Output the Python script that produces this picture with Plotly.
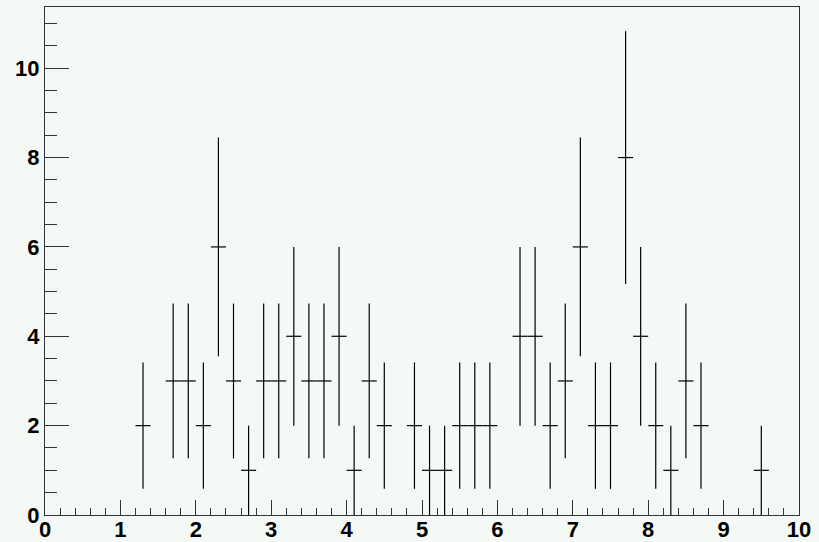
import numpy as np
import plotly.graph_objects as go

bin_centers = [1.3, 1.7, 1.9, 2.1, 2.3, 2.5, 2.7, 2.9, 3.1, 3.3, 3.5, 3.7, 3.9,
               4.1, 4.3, 4.5, 4.9, 5.1, 5.3, 5.5, 5.7, 5.9, 6.3, 6.5, 6.7, 6.9,
               7.1, 7.3, 7.5, 7.7, 7.9, 8.1, 8.3, 8.5, 8.7, 9.5]
counts = [2, 3, 3, 2, 6, 3, 1, 3, 3, 4, 3, 3, 4,
          1, 3, 2, 2, 1, 1, 2, 2, 2, 4, 4, 2, 3,
          6, 2, 2, 8, 4, 2, 1, 3, 2, 1]
bin_width = 0.2

errors = np.sqrt(np.array(counts, dtype=float))
ymax = (max(np.array(counts) + errors)) * 1.05

fig = go.Figure()
fig.add_trace(go.Scatter(
    x=bin_centers, y=counts, mode="markers",
    marker=dict(size=1, color="rgba(0,0,0,0)"),
    error_y=dict(type="data", array=errors.tolist(), symmetric=True,
                 width=0, thickness=1.2, color="black"),
    error_x=dict(type="constant", value=bin_width / 2, symmetric=True,
                 width=0, thickness=1.2, color="black"),
    showlegend=False, hoverinfo="skip",
))

font = dict(family="Liberation Sans, Arial, sans-serif", size=22, color="black", weight="bold")
fig.update_layout(
    width=819, height=542,
    margin=dict(l=45, r=20, t=7, b=27, autoexpand=False),
    paper_bgcolor="#f5f9f6", plot_bgcolor="#f5f9f6",
    xaxis=dict(range=[0, 10], tickvals=list(range(0, 11)), ticks="inside",
               ticklen=15, tickcolor="#333", tickwidth=1, automargin=False,
               ticklabelstandoff=-5,
               showline=True, linecolor="#333", linewidth=1, mirror=True,
               showgrid=False, zeroline=False, tickfont=font,
               minor=dict(dtick=0.2, ticks="inside", ticklen=7, tickcolor="#333", showgrid=False)),
    yaxis=dict(range=[0, ymax], tickvals=[0, 2, 4, 6, 8, 10], ticks="inside",
               ticklen=24, tickcolor="#333", tickwidth=1, automargin=False,
               showline=True, linecolor="#333", linewidth=1, mirror=True,
               showgrid=False, zeroline=False, tickfont=font,
               minor=dict(dtick=0.5, ticks="inside", ticklen=12, tickcolor="#333", showgrid=False)),
)
fig.write_html("out.html")
